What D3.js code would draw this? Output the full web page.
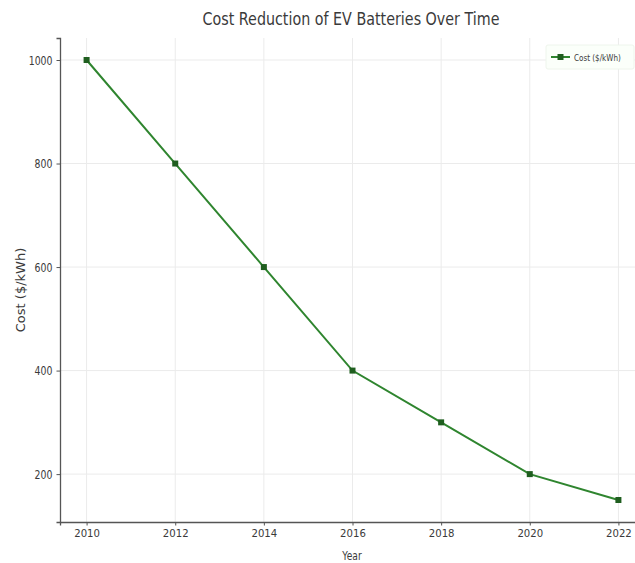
<!DOCTYPE html>
<html>
<head>
<meta charset="utf-8">
<script src="https://cdn.jsdelivr.net/npm/d3@7"></script>
<style>
  body { margin: 0; background: #fff; }
  text { font-family: "DejaVu Sans", sans-serif; }
</style>
</head>
<body>
<div id="chart"></div>
<script>
// data
const years = [2010, 2012, 2014, 2016, 2018, 2020, 2022];
const costs = [1000, 800, 600, 400, 300, 200, 150];
const yTicks = [200, 400, 600, 800, 1000];
const xTicks = [2010, 2012, 2014, 2016, 2018, 2020, 2022];

const data = years.map((y, i) => ({year: y, cost: costs[i]}));

// set the dimensions and margins of the graph
const W = 635, H = 563;
const margin = {top: 38, right: -10, bottom: 41, left: 60};
const width = W - margin.left - margin.right;
const height = H - margin.top - margin.bottom;

const lineColor = "#2f852f";
const markColor = "#1f5e1f";
const textColor = "#3a3a3a";

// squeeze text horizontally, the picture uses a narrow face
function squish(sel, f) {
  sel.each(function() {
    const n = this.getComputedTextLength();
    d3.select(this).attr("textLength", n * f).attr("lengthAdjust", "spacingAndGlyphs");
  });
}

const svg = d3.select("#chart")
  .append("svg")
    .attr("width", W)
    .attr("height", H)
  .append("g")
    .attr("transform", `translate(${margin.left}, ${margin.top})`);

// matplotlib style padding of 5 percent
const xPad = (d3.max(years) - d3.min(years)) * 0.05;
const yPad = (d3.max(costs) - d3.min(costs)) * 0.05;

const x = d3.scaleLinear()
  .domain([d3.min(years) - xPad, d3.max(years) + xPad])
  .range([0, width]);

const y = d3.scaleLinear()
  .domain([d3.min(costs) - yPad, d3.max(costs) + yPad])
  .range([height, 0]);

// grid
svg.append("g")
  .selectAll("line.gx")
  .data(xTicks)
  .join("line")
    .attr("x1", d => x(d)).attr("x2", d => x(d))
    .attr("y1", 0).attr("y2", height)
    .attr("stroke", "#ebebeb").attr("stroke-width", 1);
svg.append("g")
  .selectAll("line.gy")
  .data(yTicks)
  .join("line")
    .attr("x1", 0).attr("x2", width)
    .attr("y1", d => y(d)).attr("y2", d => y(d))
    .attr("stroke", "#ebebeb").attr("stroke-width", 1);

// X axis
const gx = svg.append("g")
  .attr("transform", `translate(0, ${height})`)
  .call(d3.axisBottom(x).tickValues(xTicks).tickFormat(d3.format("d")).tickSize(3.5).tickPadding(4));
gx.select(".domain").attr("stroke", "#555").attr("stroke-width", 1.3);
gx.selectAll(".tick line").attr("stroke", "#555");
gx.selectAll("text").attr("font-size", 11).attr("fill", textColor).call(squish, 0.92);

// Y axis
const gy = svg.append("g")
  .call(d3.axisLeft(y).tickValues(yTicks).tickFormat(d3.format("d")).tickSize(3.5).tickPadding(4));
gy.select(".domain").attr("stroke", "#555").attr("stroke-width", 1.3);
gy.selectAll(".tick line").attr("stroke", "#555");
gy.selectAll("text").attr("font-size", 13).attr("fill", textColor).call(squish, 0.72);

// the line
svg.append("path")
  .datum(data)
  .attr("fill", "none")
  .attr("stroke", lineColor)
  .attr("stroke-width", 2)
  .attr("d", d3.line()
    .x(d => x(d.year))
    .y(d => y(d.cost))
  );

// square markers
svg.append("g")
  .selectAll("rect")
  .data(data)
  .join("rect")
    .attr("x", d => x(d.year) - 3)
    .attr("y", d => y(d.cost) - 3)
    .attr("width", 6)
    .attr("height", 6)
    .attr("fill", markColor);

// title
svg.append("text")
  .attr("text-anchor", "middle")
  .attr("font-size", 18)
  .attr("fill", textColor)
  .attr("x", 351 - margin.left)
  .attr("y", -13)
  .text("Cost Reduction of EV Batteries Over Time")
  .attr("textLength", 297)
  .attr("lengthAdjust", "spacingAndGlyphs");

// axis labels
svg.append("text")
  .attr("text-anchor", "middle")
  .attr("font-size", 13)
  .attr("fill", textColor)
  .attr("x", 352 - margin.left)
  .attr("y", height + 38)
  .text("Year")
  .call(squish, 0.7);

svg.append("text")
  .attr("text-anchor", "middle")
  .attr("font-size", 13)
  .attr("fill", textColor)
  .attr("transform", `translate(${25 - margin.left}, ${290 - margin.top}) rotate(-90)`)
  .text("Cost ($/kWh)");

// legend
const lg = svg.append("g")
  .attr("transform", `translate(${546 - margin.left}, ${45 - margin.top})`);
lg.append("rect")
  .attr("width", 88).attr("height", 24)
  .attr("fill", "#fbfffa").attr("stroke", "#eef5ec").attr("rx", 2);
lg.append("line")
  .attr("x1", 5).attr("x2", 24).attr("y1", 12).attr("y2", 12)
  .attr("stroke", lineColor).attr("stroke-width", 2);
lg.append("rect")
  .attr("x", 11.5).attr("y", 9).attr("width", 6).attr("height", 6)
  .attr("fill", markColor);
lg.append("text")
  .attr("x", 28).attr("y", 15.5)
  .attr("font-size", 9)
  .attr("fill", textColor)
  .text("Cost ($/kWh)")
  .call(squish, 0.8);
</script>
</body>
</html>
